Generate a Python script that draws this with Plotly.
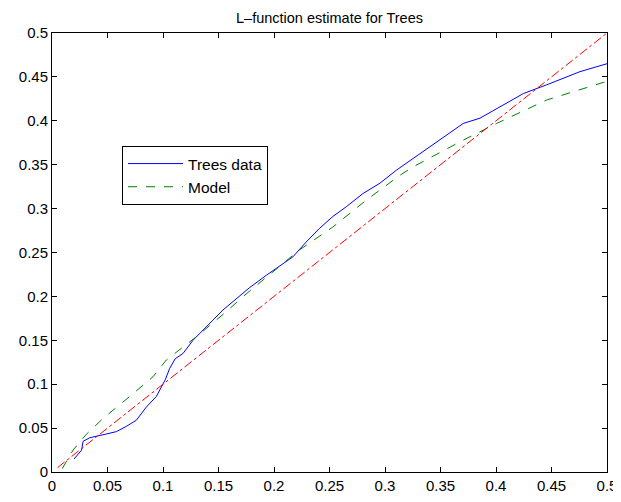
import plotly.graph_objects as go

# Trees data (empirical L-function)
trees_x = [0.020, 0.0267, 0.028, 0.034, 0.048, 0.058, 0.067, 0.076, 0.085, 0.094,
           0.102, 0.106, 0.111, 0.118, 0.127, 0.136, 0.145, 0.154, 0.163, 0.178,
           0.193, 0.205, 0.217, 0.229, 0.241, 0.253, 0.265, 0.280, 0.2955, 0.3105,
           0.3255, 0.3405, 0.3705, 0.3856, 0.4096, 0.4246, 0.4457, 0.4757, 0.50]
trees_y = [0.015, 0.025, 0.035, 0.039, 0.043, 0.046, 0.052, 0.059, 0.074, 0.086,
           0.105, 0.118, 0.129, 0.135, 0.150, 0.162, 0.173, 0.1845, 0.194, 0.210,
           0.224, 0.234, 0.245, 0.262, 0.2775, 0.291, 0.302, 0.317, 0.329, 0.344,
           0.357, 0.3705, 0.397, 0.403, 0.4206, 0.431, 0.441, 0.456, 0.465]

# Model
model_x = [0.0093, 0.019, 0.031, 0.046, 0.070, 0.091, 0.103, 0.130, 0.157, 0.172,
           0.223, 0.253, 0.2835, 0.3135, 0.3255, 0.3705, 0.4006, 0.4457, 0.50]
model_y = [0.004, 0.025, 0.043, 0.061, 0.086, 0.1085, 0.1276, 0.154, 0.1826, 0.1997,
           0.253, 0.279, 0.31, 0.338, 0.3477, 0.378, 0.397, 0.4237, 0.445]

# Reference line L(r) = r
ref_x = [0.005, 0.5]
ref_y = [0.005, 0.5]

ticks = [0, 0.05, 0.1, 0.15, 0.2, 0.25, 0.3, 0.35, 0.4, 0.45, 0.5]
tick_text = ["0", "0.05", "0.1", "0.15", "0.2", "0.25", "0.3", "0.35", "0.4", "0.45", "0.5"]

FONT = "Liberation Sans, Arial, sans-serif"

fig = go.Figure()
fig.add_trace(go.Scatter(x=trees_x, y=trees_y, mode="lines", name="Trees data",
                         line=dict(color="#0000ff", width=1)))
fig.add_trace(go.Scatter(x=model_x, y=model_y, mode="lines", name="Model",
                         line=dict(color="#008000", width=1, dash="dash")))
fig.add_trace(go.Scatter(x=ref_x, y=ref_y, mode="lines", showlegend=False,
                         line=dict(color="#ff0000", width=1, dash="dashdot")))

axis_common = dict(
    range=[0, 0.5], tickmode="array", tickvals=ticks, ticktext=tick_text,
    ticks="inside", ticklen=5, tickcolor="black", tickwidth=1,
    showline=True, linecolor="black", linewidth=1, mirror="ticks",
    showgrid=False, zeroline=False, automargin=False,
    tickfont=dict(family=FONT, size=15, color="black"),
)

fig.update_xaxes(**axis_common)
fig.update_yaxes(**axis_common)

# The page body has an 8px margin; figure size/margins compensate for it.
W, H = 613, 494
fig.update_layout(
    width=W, height=H,
    margin=dict(l=44, r=14, t=25, b=30, autoexpand=False),
    paper_bgcolor="white", plot_bgcolor="white",
    title=dict(text="L\u2013function estimate for Trees", x=(44 + W - 14) / 2 / W, xanchor="center",
               y=1 - 10 / H, yanchor="middle", yref="container",
               font=dict(family=FONT, size=14.5, color="black")),
    legend=dict(x=(122 - 52) / 555, y=(472 - 146) / 439, xanchor="left", yanchor="top",
                bgcolor="white", bordercolor="black", borderwidth=1,
                font=dict(family=FONT, size=15.5, color="black"),
                itemwidth=55),
    showlegend=True,
)

fig.write_html("out.html")
